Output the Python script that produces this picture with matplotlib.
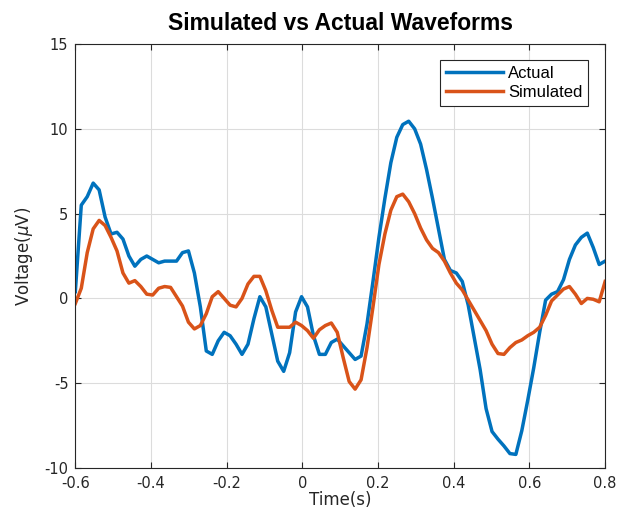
import numpy as np
import matplotlib
matplotlib.use("Agg")
import matplotlib.pyplot as plt

plt.rcParams["axes.unicode_minus"] = False

t_start, t_end, n_samples = -0.6, 0.8, 90

actual = [0.4, 5.5, 6.0, 6.8, 6.4, 4.8, 3.8, 3.9, 3.5, 2.5,
          1.9, 2.3, 2.5, 2.3, 2.1, 2.2, 2.2, 2.2, 2.7, 2.8,
          1.5, -0.5, -3.1, -3.3, -2.5, -2.0, -2.2, -2.7, -3.3, -2.7,
          -1.2, 0.1, -0.5, -2.1, -3.7, -4.3, -3.2, -0.8, 0.1, -0.5,
          -2.2, -3.3, -3.3, -2.6, -2.4, -2.8, -3.2, -3.6, -3.4, -1.5,
          1.0, 3.6, 5.9, 8.0, 9.5, 10.25, 10.45, 10.0, 9.1, 7.6,
          5.9, 4.1, 2.3, 1.65, 1.5, 1.0, -0.4, -2.3, -4.2, -6.5,
          -7.85, -8.3, -8.7, -9.15, -9.2, -7.8, -6.0, -4.1, -2.0, -0.1,
          0.25, 0.4, 1.1, 2.3, 3.15, 3.6, 3.85, 3.0, 2.0, 2.2]

simulated = [-0.3, 0.6, 2.7, 4.1, 4.6, 4.3, 3.6, 2.8, 1.5, 0.9,
             1.05, 0.7, 0.25, 0.2, 0.6, 0.7, 0.65, 0.1, -0.45, -1.4,
             -1.8, -1.6, -0.9, 0.1, 0.4, 0.0, -0.4, -0.5, 0.0, 0.85,
             1.3, 1.3, 0.45, -0.7, -1.7, -1.7, -1.7, -1.4, -1.6, -1.9,
             -2.35, -1.85, -1.6, -1.45, -2.0, -3.5, -4.9, -5.35, -4.8, -2.9,
             -0.5, 2.0, 3.8, 5.2, 6.0, 6.15, 5.7, 5.0, 4.15, 3.45,
             2.95, 2.7, 2.2, 1.5, 0.9, 0.5, -0.1, -0.7, -1.3, -1.9,
             -2.7, -3.25, -3.3, -2.9, -2.6, -2.45, -2.2, -2.0, -1.7, -1.0,
             -0.15, 0.2, 0.55, 0.7, 0.25, -0.3, 0.0, -0.05, -0.2, 1.0]

xticks = [-0.6, -0.4, -0.2, 0, 0.2, 0.4, 0.6, 0.8]
xticklabels = ["-0.6", "-0.4", "-0.2", "0", "0.2", "0.4", "0.6", "0.8"]
yticks = [-10, -5, 0, 5, 10, 15]
yticklabels = ["-10", "-5", "0", "5", "10", "15"]

t = np.linspace(t_start, t_end, n_samples)

fig = plt.figure(figsize=(6.33, 5.17), dpi=100)
ax = fig.add_axes([0.119, 0.0948, 0.837, 0.820])

ax.plot(t, actual, color="#0072BD", lw=2.5, label="Actual")
ax.plot(t, simulated, color="#D95319", lw=2.5, label="Simulated")

ax.set_xlim(-0.6, 0.8)
ax.set_ylim(-10, 15)
ax.set_xticks(xticks)
ax.set_xticklabels(xticklabels)
ax.set_yticks(yticks)
ax.set_yticklabels(yticklabels)
ax.grid(True, color="#dcdcdc", lw=0.8)
ax.set_axisbelow(True)
ax.tick_params(direction="in", length=4, color="#262626", labelsize=10.5,
               labelcolor="#262626", top=True, right=True,
               labeltop=False, labelright=False)
ax.tick_params(axis="x", pad=6)
ax.tick_params(axis="y", pad=5)
for s in ax.spines.values():
    s.set_color("#262626")
    s.set_linewidth(0.8)

ax.set_xlabel("Time(s)", fontsize=12, color="#262626", labelpad=0)
ax.set_ylabel(r"Voltage($\mu$V)", fontsize=12, color="#262626", labelpad=7)
ax.set_title("Simulated vs Actual Waveforms", fontsize=16.5, fontweight="bold",
             family="Liberation Sans", pad=10)

leg = ax.legend(loc="upper right", bbox_to_anchor=(0.968, 0.962),
                prop={"family": "Liberation Sans", "size": 12},
                fancybox=False, edgecolor="#262626", framealpha=1,
                handlelength=3.4, handletextpad=0.3, borderpad=0.35,
                labelspacing=0.25, borderaxespad=0.0)
leg.get_frame().set_linewidth(0.8)

fig.savefig("out.png", dpi=100)
